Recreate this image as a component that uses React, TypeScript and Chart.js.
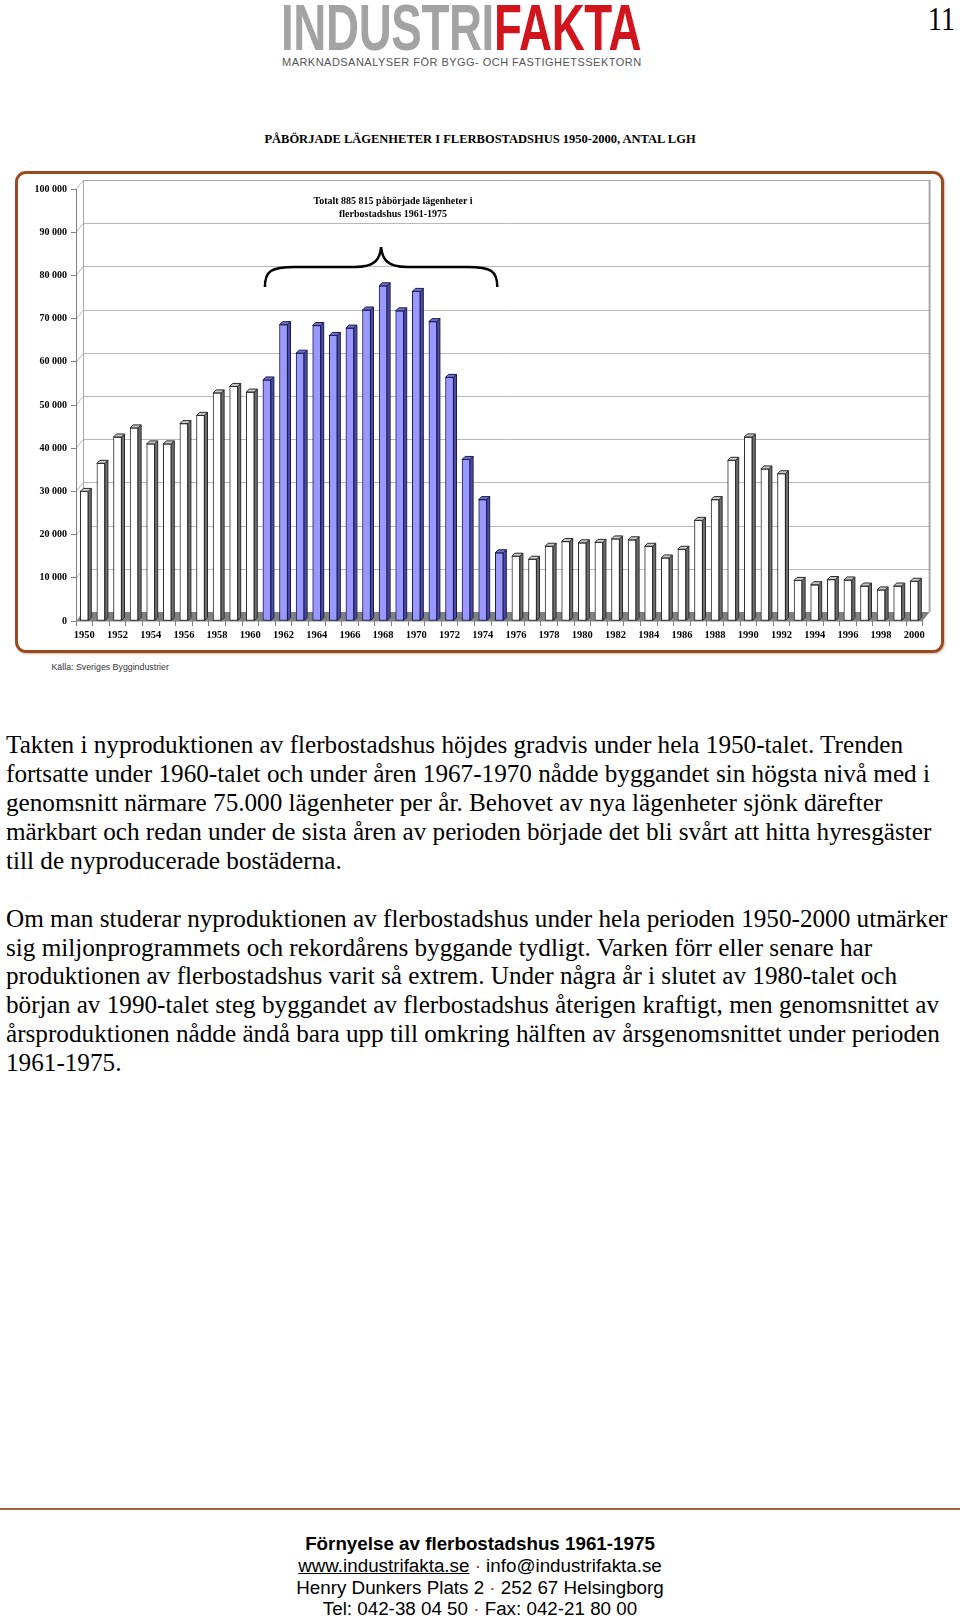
import React, { useEffect, useRef } from "react";
import { Chart, registerables } from "chart.js";

Chart.register(...registerables);

const years: string[] = [
  "1950", "1951", "1952", "1953", "1954", "1955", "1956", "1957", "1958", "1959",
  "1960", "1961", "1962", "1963", "1964", "1965", "1966", "1967", "1968", "1969",
  "1970", "1971", "1972", "1973", "1974", "1975", "1976", "1977", "1978", "1979",
  "1980", "1981", "1982", "1983", "1984", "1985", "1986", "1987", "1988", "1989",
  "1990", "1991", "1992", "1993", "1994", "1995", "1996", "1997", "1998", "1999", "2000",
];

const apartments: number[] = [
  30000, 36500, 42600, 44700, 41000, 41000, 45700, 47600, 52800, 54300,
  53000, 55800, 68600, 62000, 68400, 66100, 67800, 72000, 77600, 71800,
  76300, 69300, 56400, 37400, 28100, 15800, 15000, 14300, 17300, 18400,
  18100, 18200, 19000, 18800, 17300, 14600, 16600, 23300, 28100, 37200,
  42600, 35200, 34100, 9400, 8400, 9600, 9500, 8100, 7200, 8100, 9200,
];

const highlightFrom = "1961";
const highlightTo = "1975";

const yTickLabels: string[] = ["0", "10 000", "20 000", "30 000", "40 000", "50 000", "60 000", "70 000", "80 000", "90 000", "100 000"];

const para1: string[] = [
  "Takten i nyproduktionen av flerbostadshus höjdes gradvis under hela 1950-talet. Trenden",
  "fortsatte under 1960-talet och under åren 1967-1970 nådde byggandet sin högsta nivå med i",
  "genomsnitt närmare 75.000 lägenheter per år. Behovet av nya lägenheter sjönk därefter",
  "märkbart och redan under de sista åren av perioden började det bli svårt att hitta hyresgäster",
  "till de nyproducerade bostäderna.",
];

const para2: string[] = [
  "Om man studerar nyproduktionen av flerbostadshus under hela perioden 1950-2000 utmärker",
  "sig miljonprogrammets och rekordårens byggande tydligt. Varken förr eller senare har",
  "produktionen av flerbostadshus varit så extrem. Under några år i slutet av 1980-talet och",
  "början av 1990-talet steg byggandet av flerbostadshus återigen kraftigt, men genomsnittet av",
  "årsproduktionen nådde ändå bara upp till omkring hälften av årsgenomsnittet under perioden",
  "1961-1975.",
];

const SERIF = "'Liberation Serif', 'Times New Roman', Times, serif";
const SANS = "'Liberation Sans', Arial, Helvetica, sans-serif";

const isHi = (y: string) => y >= highlightFrom && y <= highlightTo;

const DX = 7;
const DY = -9;
const DEPTH = 3;

const threeD = {
  id: "threeD",
  beforeDatasetsDraw(chart: any) {
    const { ctx, chartArea: a, scales } = chart;
    const y = scales.y;
    ctx.save();
    ctx.fillStyle = "#ffffff";
    ctx.fillRect(a.left + DX, a.top + DY, a.right - a.left, a.bottom - a.top);
    ctx.fillStyle = "#808080";
    ctx.beginPath();
    ctx.moveTo(a.left, a.bottom);
    ctx.lineTo(a.left + DX, a.bottom + DY);
    ctx.lineTo(a.right + DX, a.bottom + DY);
    ctx.lineTo(a.right, a.bottom);
    ctx.closePath();
    ctx.fill();
    ctx.strokeStyle = "#b8b8b8";
    ctx.lineWidth = 1;
    y.ticks.forEach((t: any) => {
      const py = Math.round(y.getPixelForValue(t.value)) + 0.5;
      ctx.beginPath();
      ctx.moveTo(a.left, py);
      ctx.lineTo(a.left + DX, py + DY);
      if (t.value > 0) ctx.lineTo(a.right + DX, py + DY);
      ctx.stroke();
    });
    ctx.strokeStyle = "#a8a8a8";
    ctx.beginPath();
    ctx.moveTo(a.left + DX + 0.5, a.top + DY);
    ctx.lineTo(a.left + DX + 0.5, a.bottom + DY);
    ctx.stroke();
    ctx.lineWidth = 2;
    ctx.beginPath();
    ctx.moveTo(a.right + DX, a.top + DY);
    ctx.lineTo(a.right + DX, a.bottom + DY);
    ctx.stroke();
    ctx.lineWidth = 1;
    ctx.beginPath();
    ctx.moveTo(a.left + DX, a.top + DY + 0.5);
    ctx.lineTo(a.right + DX, a.top + DY + 0.5);
    ctx.stroke();
    ctx.strokeStyle = "#808080";
    ctx.beginPath();
    ctx.moveTo(a.left + 0.5, a.top);
    ctx.lineTo(a.left + 0.5, a.bottom);
    ctx.lineTo(a.right, a.bottom);
    ctx.stroke();
    ctx.restore();
  },
  afterDatasetsDraw(chart: any) {
    const { ctx, scales } = chart;
    const meta = chart.getDatasetMeta(0);
    ctx.save();
    ctx.lineWidth = 1;
    meta.data.forEach((bar: any, i: number) => {
      const hi = isHi(years[i]);
      const w = bar.width;
      const l = bar.x - w / 2;
      const r = bar.x + w / 2;
      const t = bar.y;
      const b = bar.base;
      ctx.strokeStyle = hi ? "#1c1c50" : "#2a2a2a";
      ctx.fillStyle = hi ? "#4c4ca6" : "#6e6e6e";
      ctx.beginPath();
      ctx.moveTo(r, t);
      ctx.lineTo(r + DEPTH, t - DEPTH);
      ctx.lineTo(r + DEPTH, b - DEPTH);
      ctx.lineTo(r, b);
      ctx.closePath();
      ctx.fill();
      ctx.stroke();
      ctx.fillStyle = hi ? "#7070cc" : "#c8c8c8";
      ctx.beginPath();
      ctx.moveTo(l, t);
      ctx.lineTo(l + DEPTH, t - DEPTH);
      ctx.lineTo(r + DEPTH, t - DEPTH);
      ctx.lineTo(r, t);
      ctx.closePath();
      ctx.fill();
      ctx.stroke();
    });
    const x = scales.x;
    const i0 = years.indexOf(highlightFrom);
    const i1 = years.indexOf(highlightTo);
    const xl = x.getPixelForValue(i0) - 2;
    const xr = x.getPixelForValue(i1) - 2;
    const xm = (xl + xr) / 2;
    const yEnd = 127;
    const yBar = 107;
    const yPeak = 87;
    const rad = 20;
    ctx.strokeStyle = "#000";
    ctx.lineWidth = 2.5;
    ctx.beginPath();
    ctx.moveTo(xl, yEnd);
    ctx.bezierCurveTo(xl, yBar + 4, xl + 6, yBar, xl + rad + 10, yBar);
    ctx.lineTo(xm - 26, yBar);
    ctx.bezierCurveTo(xm - 6, yBar, xm - 1, yBar - 8, xm, yPeak);
    ctx.bezierCurveTo(xm + 1, yBar - 8, xm + 6, yBar, xm + 26, yBar);
    ctx.lineTo(xr - rad - 10, yBar);
    ctx.bezierCurveTo(xr - 6, yBar, xr, yBar + 4, xr, yEnd);
    ctx.stroke();
    ctx.restore();
  },
};

function BarChart() {
  const ref = useRef<HTMLCanvasElement | null>(null);
  useEffect(() => {
    if (!ref.current) return;
    const chart = new Chart(ref.current, {
      type: "bar",
      data: {
        labels: years,
        datasets: [
          {
            data: apartments,
            backgroundColor: years.map((y) => (isHi(y) ? "#9999ff" : "#ffffff")),
            borderColor: years.map((y) => (isHi(y) ? "#1c1c50" : "#2a2a2a")),
            borderWidth: 1,
            borderSkipped: false,
            barThickness: 8,
          },
        ],
      },
      options: {
        animation: false,
        responsive: false,
        devicePixelRatio: 1,
        layout: { padding: { left: 0, top: 29, right: 37.4, bottom: 0 } },
        plugins: { legend: { display: false }, tooltip: { enabled: false } },
        scales: {
          x: {
            offset: true,
            border: { display: false },
            grid: { display: true, drawOnChartArea: false, drawTicks: true, tickLength: 5, color: "#808080", offset: true },
            ticks: {
              autoSkip: false,
              maxRotation: 0,
              padding: 3,
              color: "#000",
              font: { family: SERIF, size: 10.5, weight: "bold" },
              callback: (_v: any, i: number) => (i % 2 === 0 ? years[i] : ""),
            },
            afterFit: (s: any) => {
              s.height = 39;
            },
          },
          y: {
            min: 0,
            max: 100000,
            border: { display: false },
            grid: { display: true, drawOnChartArea: false, drawTicks: true, tickLength: 5, color: "#808080" },
            ticks: {
              stepSize: 10000,
              padding: 4,
              color: "#000",
              font: { family: SERIF, size: 10, weight: "bold" },
              callback: (_v: any, i: number) => yTickLabels[i],
            },
            afterFit: (s: any) => {
              s.width = 76;
            },
          },
        },
      },
      plugins: [threeD],
    });
    return () => chart.destroy();
  }, []);
  return (
    <canvas
      ref={ref}
      width={960}
      height={500}
      style={{ position: "absolute", left: 0, top: 160, width: 960, height: 500 }}
    />
  );
}

export default function App() {
  useEffect(() => {
    document.body.style.margin = "0";
    document.body.style.background = "#ffffff";
  }, []);
  const abs: React.CSSProperties = { position: "absolute", whiteSpace: "nowrap" };
  const dot = <span style={{ color: "#a0342a" }}>·</span>;
  return (
    <div style={{ position: "relative", width: 960, height: 1620, overflow: "hidden", background: "#fff" }}>
      <div style={{ ...abs, left: 281, top: -5.5, fontFamily: SANS, fontWeight: "bold", fontSize: 65, lineHeight: "65px", transform: "scaleX(0.703)", transformOrigin: "left top", letterSpacing: -0.5 }}>
        <span style={{ color: "#a3a3a3" }}>INDUSTRI</span>
        <span style={{ color: "#d2141c" }}>FAKTA</span>
      </div>
      <div style={{ ...abs, left: 282, top: 57, fontFamily: SANS, fontSize: 11, lineHeight: "11px", letterSpacing: 0.47, color: "#555" }}>
        MARKNADSANALYSER FÖR BYGG- OCH FASTIGHETSSEKTORN
      </div>
      <div style={{ ...abs, left: 928, top: 2, fontFamily: SERIF, fontSize: 28, lineHeight: "28px", transform: "scaleY(1.2)", transformOrigin: "left top", color: "#000" }}>
        11
      </div>
      <div style={{ ...abs, left: 0, width: 960, top: 131, textAlign: "center", fontFamily: SERIF, fontWeight: "bold", fontSize: 12.5, lineHeight: "17px", color: "#000" }}>
        PÅBÖRJADE LÄGENHETER I FLERBOSTADSHUS 1950-2000, ANTAL LGH
      </div>
      <div style={{ position: "absolute", left: 15, top: 171, width: 929, height: 482, boxSizing: "border-box", border: "3px solid #9c4a20", borderRadius: 11, background: "#fff", boxShadow: "1px 1px 2px rgba(120,60,30,0.35)" }} />
      <BarChart />
      <div style={{ ...abs, left: 243, width: 300, top: 193.5, textAlign: "center", fontFamily: SERIF, fontWeight: "bold", fontSize: 10, lineHeight: "13px", color: "#000" }}>
        Totalt 885 815 påbörjade lägenheter i<br />flerbostadshus 1961-1975
      </div>
      <div style={{ ...abs, left: 51.5, top: 662, fontFamily: SANS, fontSize: 8.8, lineHeight: "11px", color: "#333" }}>
        Källa: Sveriges Byggindustrier
      </div>
      <div style={{ ...abs, left: 6, top: 731, fontFamily: SERIF, fontSize: 25.2, lineHeight: "28.94px", color: "#000" }}>
        {para1.map((l, i) => (
          <div key={i}>{l}</div>
        ))}
      </div>
      <div style={{ ...abs, left: 6, top: 904.6, fontFamily: SERIF, fontSize: 25.2, lineHeight: "28.94px", color: "#000" }}>
        {para2.map((l, i) => (
          <div key={i}>{l}</div>
        ))}
      </div>
      <div style={{ position: "absolute", left: 0, top: 1508, width: 960, height: 2, background: "#a4633f" }} />
      <div style={{ ...abs, left: 0, width: 960, top: 1533.2, textAlign: "center", fontFamily: SANS, fontSize: 18.8, lineHeight: "21.7px", color: "#000" }}>
        <div style={{ fontWeight: "bold" }}>Förnyelse av flerbostadshus 1961-1975</div>
        <div>
          <span style={{ textDecoration: "underline" }}>www.industrifakta.se</span> {dot} info@industrifakta.se
        </div>
        <div>Henry Dunkers Plats 2 {dot} 252 67 Helsingborg</div>
        <div>Tel: 042-38 04 50 {dot} Fax: 042-21 80 00</div>
      </div>
    </div>
  );
}
